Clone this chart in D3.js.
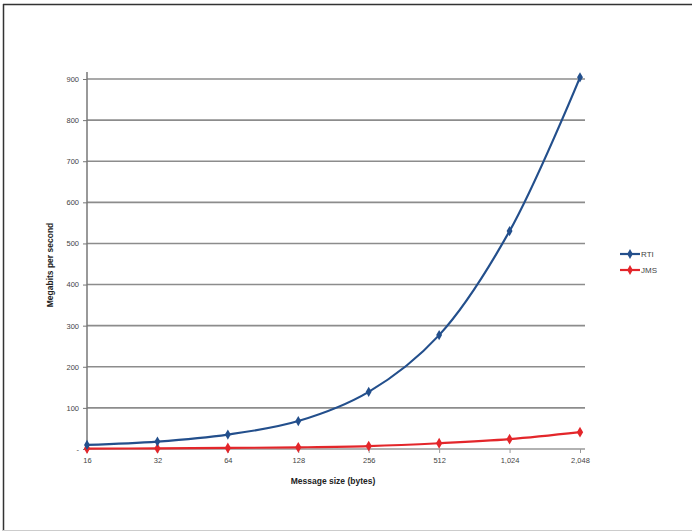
<!DOCTYPE html>
<html><head><meta charset="utf-8">
<script src="https://cdn.jsdelivr.net/npm/d3@7"></script>
<style>body{margin:0;background:#fff}svg{display:block}</style>
</head><body>
<script>
const categories = ["16","32","64","128","256","512","1,024","2,048"];
const rtiValues = [10, 18, 35, 68, 139, 277, 530, 904];
const jmsValues = [1, 1.5, 2.5, 4, 7, 14, 24, 41];
const yTicks = [0,100,200,300,400,500,600,700,800,900];
const seriesNames = ["RTI","JMS"];
const seriesColors = ["#234f8c","#e3262a"];

const W=692,H=532;
const svg=d3.select("body").append("svg").attr("width",W).attr("height",H);
// frame
svg.append("rect").attr("x",0).attr("y",0).attr("width",W).attr("height",H).attr("fill","#fff");
svg.append("line").attr("x1",3.5).attr("x2",3.5).attr("y1",4).attr("y2",531).attr("stroke","#333").attr("stroke-width",1.5);
svg.append("line").attr("x1",3).attr("x2",692).attr("y1",4.5).attr("y2",4.5).attr("stroke","#333").attr("stroke-width",1.5);
svg.append("line").attr("x1",3).attr("x2",692).attr("y1",530.5).attr("y2",530.5).attr("stroke","#ccc").attr("stroke-width",1);

const x=d3.scalePoint().domain(categories).range([87,580]);
const y=d3.scaleLinear().domain([0,900]).range([449,79]);

// gridlines
svg.append("g").selectAll("line").data(yTicks.filter(d=>d>0)).join("line")
  .attr("x1",87).attr("x2",585).attr("y1",d=>y(d)).attr("y2",d=>y(d))
  .attr("stroke","#8c8c8c").attr("stroke-width",1.6);

// y axis
const yAxis=d3.axisLeft(y).tickValues(yTicks).tickSize(4).tickFormat(d=>d===0?"-":d);
const gy=svg.append("g").attr("transform","translate(87,0)").call(yAxis);
gy.select(".domain").attr("stroke","#777").attr("stroke-width",1.5).attr("d","M0,449V72");
gy.selectAll(".tick line").attr("stroke","#777");
gy.selectAll(".tick text").attr("x",-8).attr("font-family","Liberation Sans, Arial, sans-serif").attr("font-size",7.5).attr("fill","#444");

// x axis
const xAxis=d3.axisBottom(x).tickSize(4);
const gx=svg.append("g").attr("transform","translate(0,449)").call(xAxis);
gx.select(".domain").attr("stroke","#999").attr("stroke-width",1.5).attr("d","M87,0H585");
gx.selectAll(".tick line").attr("stroke","#999");
gx.selectAll(".tick text").attr("y",9).attr("font-family","Liberation Sans, Arial, sans-serif").attr("font-size",7.5).attr("fill","#444");

// axis titles
svg.append("text").attr("transform","translate(53,265) rotate(-90)").attr("text-anchor","middle")
  .attr("font-family","Liberation Sans, Arial, sans-serif").attr("font-size",8.5).attr("font-weight","bold").attr("fill","#222")
  .text("Megabits per second");
svg.append("text").attr("x",333).attr("y",484).attr("text-anchor","middle")
  .attr("font-family","Liberation Sans, Arial, sans-serif").attr("font-size",8.5).attr("font-weight","bold").attr("fill","#222")
  .text("Message size (bytes)");

const line=d3.line().x((d,i)=>x(categories[i])).y(d=>y(d)).curve(d3.curveCatmullRom.alpha(0.5));
const allSeries=[rtiValues,jmsValues];
allSeries.slice().reverse().forEach((vals,ri)=>{
  const si=allSeries.length-1-ri;
  const g=svg.append("g");
  g.append("path").attr("d",line(vals)).attr("fill","none").attr("stroke",seriesColors[si]).attr("stroke-width",2.2);
  g.selectAll("path.m").data(vals).join("path").attr("class","m")
    .attr("transform",(d,i)=>`translate(${x(categories[i])},${y(d)})`)
    .attr("d",si===0?d3.symbol(d3.symbolDiamond,30)():d3.symbol(d3.symbolDiamond,34)())
    .attr("fill",seriesColors[si]);
});

// legend
const lg=svg.append("g");
seriesNames.forEach((n,i)=>{
  const yy=254+i*16;
  lg.append("line").attr("x1",620).attr("x2",640).attr("y1",yy).attr("y2",yy).attr("stroke",seriesColors[i]).attr("stroke-width",2.2);
  lg.append("path").attr("transform",`translate(630,${yy})`).attr("d",d3.symbol(d3.symbolDiamond,28)()).attr("fill",seriesColors[i]);
  lg.append("text").attr("x",641).attr("y",yy+3).attr("font-family","Liberation Sans, Arial, sans-serif").attr("font-size",8).attr("fill","#444").text(n);
});
</script>
</body></html>
